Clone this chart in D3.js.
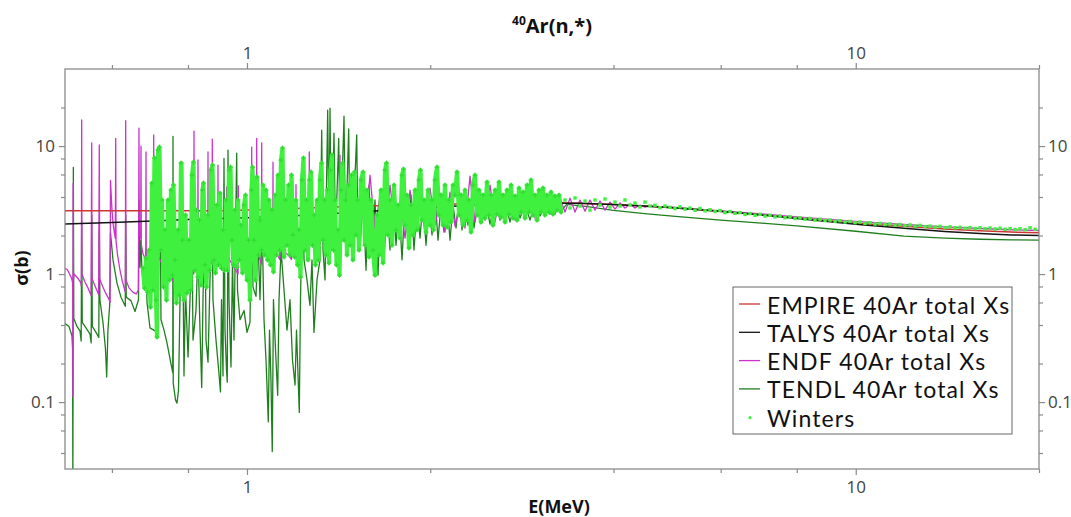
<!DOCTYPE html>
<html>
<head>
<meta charset="utf-8">
<script src="https://cdn.jsdelivr.net/npm/d3@7"></script>
<style>
  html, body { margin: 0; padding: 0; background: #fff; }
  svg { display: block; font-family: "Open Sans", "DejaVu Sans", sans-serif; }
</style>
</head>
<body>
<svg id="chart" width="1071" height="517"></svg>
<script>
// ---- axis ticks ----
const xTickLabels = [1, 10];
const xMinorTicks = [0.6, 0.8, 2, 4, 6, 8, 20];
const yTickLabels = [0.1, 1, 10];
const yMinorTicks = [0.04, 0.06, 0.08, 0.2, 0.4, 0.6, 0.8, 2, 4, 6, 8, 20];

// ---- series: [energy (MeV), total cross section (b)] ----
const empire = [[0.5,3.12],[0.7,3.12],[0.9,3.13],[1.0,3.16],[1.2,3.25],[1.5,3.38],[2.0,3.5],[2.5,3.57],
  [3.0,3.6],[3.5,3.58],[4.0,3.5],[4.5,3.4],[5.0,3.3],[6.0,3.08],[7.0,2.9],[8.0,2.74],[10,2.5],[12,2.36],
  [14,2.25],[16,2.18],[18,2.13],[20,2.1]];

const talys = [[0.5,2.46],[0.6,2.53],[0.7,2.6],[0.8,2.67],[0.9,2.72],[1.0,2.76],[1.25,2.88],[1.6,3.1],
  [2.0,3.32],[2.5,3.5],[3.0,3.58],[3.5,3.57],[4.0,3.5],[4.5,3.4],[5,3.3],[6,3.1],[7,2.9],[8,2.72],
  [10,2.45],[12,2.28],[14,2.15],[16,2.07],[18,2.02],[20,2.0]];

const endf = [
  [0.5024,1.11],[0.507,1.08],[0.511,1.0],[0.515,0.93],[0.5172,0.85],[0.5176,0.11],[0.5181,5.1],[0.5187,0.9],
  [0.5198,1.0],[0.523,0.97],[0.528,0.92],[0.533,0.86],[0.5345,0.80],[0.5351,16.0],[0.5358,1.0],[0.541,0.88],
  [0.548,0.78],[0.5545,0.68],[0.5558,10.6],[0.5566,0.92],[0.562,0.82],[0.5705,0.69],[0.5720,10.2],[0.5729,0.92],
  [0.578,0.82],[0.585,0.72],[0.593,0.64],[0.5958,0.60],[0.5967,5.4],[0.5980,4.4],[0.600,3.2],[0.6025,2.5],
  [0.6055,2.1],[0.6078,1.9],[0.6086,11.5],[0.6094,1.8],[0.613,1.4],[0.618,1.1],[0.624,0.88],[0.6312,0.72],
  [0.6320,15.8],[0.6328,0.90],[0.640,0.78],[0.650,0.72],[0.658,0.70],[0.6630,0.75],[0.6638,2.2],[0.6646,13.8],
  [0.6654,2.3],[0.6672,2.0],[0.6690,1.9],[0.6697,10.0],[0.6705,1.7],[0.6745,1.45],[0.6790,1.35],[0.6818,1.3],
  [0.6825,9.0],[0.6833,1.4],[0.690,1.15],[0.697,1.05],[0.7020,1.0],[0.7027,12.2],[0.7035,1.2],
  [0.712,1.45],[0.722,1.25],[0.735,1.1],[0.748,0.95],[0.760,0.85],[0.772,1.0],[0.7834,1.3],[0.7841,7.5],
  [0.7848,1.6],[0.795,1.4],[0.806,1.2],[0.8176,1.0],[0.8184,13.1],[0.8192,1.5],[0.8250,1.35],[0.8300,1.2],
  [0.8308,7.8],[0.8316,1.4],[0.842,1.2],[0.855,1.0],[0.8621,0.95],[0.8629,9.0],[0.8637,1.5],[0.870,1.3],
  [0.8762,1.2],[0.8770,11.3],[0.8778,1.6],[0.886,1.35],[0.8953,1.2],[0.8961,7.1],[0.8969,1.5],[0.905,1.3],
  [0.915,1.15],[0.9253,1.05],[0.9261,4.8],[0.9269,1.4],[0.940,1.25],[0.955,1.1],[0.9669,1.0],[0.9677,4.9],
  [0.9685,1.4],[0.985,1.25],[1.000,1.1],[1.0170,1.0],[1.0180,9.8],[1.0190,1.5],[1.028,1.3],[1.0364,1.15],
  [1.0374,11.5],[1.0384,1.6],[1.048,1.35],[1.0562,1.2],[1.0572,10.6],[1.0582,1.6],[1.075,1.4],[1.090,1.25],
  [1.1024,1.15],[1.1034,7.5],[1.1044,1.6],[1.118,1.45],[1.1320,1.3],[1.1330,5.9],[1.1340,1.7],[1.150,1.5],
  [1.170,1.4],[1.1833,1.3],[1.1843,5.7],[1.1853,1.7],[1.1950,1.5],[1.2027,1.4],[1.2037,5.0],[1.2047,1.8],
  [1.220,1.6],[1.2349,1.5],[1.2360,8.0],[1.2371,1.9],[1.250,1.7],[1.2646,1.6],[1.2658,9.0],[1.2670,2.0],
  [1.290,1.8],[1.3169,1.7],[1.3181,4.9],[1.3193,2.1],[1.345,1.9],[1.380,1.8],[1.4205,1.75],[1.4217,8.5],
  [1.4229,2.2],[1.450,2.0],[1.490,1.9],[1.5144,2.0],
  [1.5334,4.53],[1.5627,2.02],[1.5925,5.93],[1.6229,2.21],[1.6539,4.14],[1.6855,1.84],[1.7177,4.96],[1.7505,2.29],
  [1.7839,3.79],[1.8180,1.91],[1.8527,4.53],[1.8881,2.21],[1.9241,4.14],[1.9608,2.09],[1.9983,4.70],[2.0364,2.41],
  [2.0753,3.79],[2.1149,2.13],[2.1553,4.37],[2.1965,2.37],[2.2384,3.46],[2.2812,2.29],[2.3247,5.83],[2.3691,2.55],
  [2.4144,4.53],[2.4604,2.64],[2.5074,4.96],[2.5553,2.55],[2.6041,4.37],[2.6538,2.74],[2.7045,4.70],[2.7561,2.64],
  [2.8087,4.14],[2.8624,2.84],[2.9170,4.37],[2.9727,2.74],[3.0295,3.92],[3.0873,2.94],[3.1463,4.14],[3.2063,2.94],
  [3.2675,3.92],[3.3299,3.05],[3.3935,3.92],[3.4583,3.05],[3.5243,3.79],[3.5916,3.10],[3.6602,3.79],[3.7301,3.16],
  [3.8013,3.72],[3.8739,3.16],[3.9478,3.65],[4.0232,3.22],[4.1000,3.59],[4.1783,3.28],[4.2581,3.52],[4.3394,3.28],
  [4.4223,3.46],[4.5067,3.34],[4.5927,3.40],
  [4.8,3.37],[5.0,3.33],[6,3.12],[7,2.95],[8,2.80],[10,2.58],[12,2.44],[14,2.34],[16,2.27],[18,2.22],[20,2.19]];

const tendl = [
  [0.5024,0.41],[0.510,0.39],[0.5158,0.33],[0.5170,0.26],[0.5176,0.02],[0.5185,6.8],[0.5194,0.45],[0.5257,0.39],
  [0.5317,0.36],[0.5341,0.30],[0.5351,2.6],[0.5363,0.42],[0.5439,0.38],[0.5522,0.34],[0.5547,0.29],[0.5558,2.9],
  [0.5571,0.39],[0.5649,0.35],[0.5709,0.32],[0.5720,2.2],[0.5733,0.63],[0.5800,0.42],[0.5855,0.26],[0.5882,0.157],
  [0.5911,0.37],[0.5949,0.57],[0.5967,2.1],[0.6024,1.29],[0.6116,0.85],[0.6209,0.66],[0.6311,0.56],[0.6320,2.9],
  [0.6333,0.66],[0.6448,0.62],[0.6547,0.51],[0.6634,0.63],[0.6646,3.8],[0.6672,1.13],[0.6697,1.84],[0.6722,1.04],
  [0.6799,0.75],[0.6825,1.54],[0.6851,0.60],[0.6929,0.38],[0.7061,0.36],[0.7142,0.35],[0.7196,8.0],[0.7223,0.44],
  [0.7306,0.365],[0.7389,0.29],[0.7500,0.2],[0.7552,0.17],[0.7559,11.9],[0.7566,0.14],[0.7631,0.104],[0.7674,0.098],
  [0.7718,0.124],[0.7763,0.63],[0.7793,1.84],[0.7852,0.98],[0.7880,0.16],[0.7925,0.75],[0.8002,0.225],[0.8060,0.63],
  [0.8121,2.2],[0.8153,0.305],[0.8246,0.52],[0.8308,1.54],[0.8372,0.365],[0.8426,0.13],[0.8467,0.63],[0.8531,3.16],
  [0.8564,0.305],[0.8629,0.205],[0.8694,0.90],[0.8760,3.8],[0.8793,0.63],[0.8894,0.305],[0.8978,0.185],[0.9046,0.12],
  [0.9081,0.63],[0.9133,0.16],[0.9167,8.0],[0.9202,0.365],[0.9254,0.178],[0.9282,0.143],[0.9307,9.3],[0.9342,0.63],
  [0.9413,0.188],[0.9467,1.29],[0.9520,0.305],[0.9618,8.8],[0.9647,0.75],[0.9739,0.44],[0.9888,0.52],[1.000,0.35],
  [1.0114,0.42],[1.0175,3.8],[1.0230,0.79],[1.0347,0.67],[1.0426,1.84],[1.0505,0.63],[1.0585,2.64],[1.0665,0.44],
  [1.0746,0.213],[1.0840,0.07],[1.0889,0.365],[1.0949,0.149],[1.1003,0.041],[1.1053,0.63],[1.1139,0.255],[1.1232,0.113],
  [1.1288,0.63],[1.1374,1.54],[1.1503,0.75],[1.1634,0.365],[1.1766,0.63],[1.1878,0.213],[1.1992,0.136],[1.2060,0.365],
  [1.2188,0.083],[1.2243,0.63],[1.2360,8.2],[1.2407,1.29],[1.2548,0.90],[1.2690,0.57],[1.2787,1.29],[1.2884,0.35],
  [1.3032,0.90],[1.3181,1.29],[1.3266,13.3],[1.3332,1.54],[1.3433,0.90],[1.3570,19.1],[1.3637,1.84],[1.3689,19.8],
  [1.3767,1.54],[1.3898,12.6],[1.3977,1.84],[1.4147,11.5],[1.4217,1.54],[1.4434,17.1],[1.4516,1.84],[1.4692,13.6],
  [1.4763,1.68],[1.4934,2.41],[1.5144,12.2],[1.5218,1.68],
  [1.5334,1.54],[1.5509,4.14],[1.5686,1.07],[1.5865,4.96],[1.6046,1.41],[1.6229,3.79],[1.6414,0.98],[1.6602,4.53],
  [1.6791,1.29],[1.6983,3.46],[1.7177,1.54],[1.7373,4.14],[1.7571,1.68],[1.7772,3.46],[1.7974,1.29],[1.8180,3.79],
  [1.8387,1.84],[1.8597,4.14],[1.8809,1.54],[1.9024,3.46],[1.9241,1.91],[1.9461,3.79],[1.9682,1.68],[1.9907,3.46],
  [2.0135,2.02],[2.0364,4.14],[2.0596,1.84],[2.0832,3.46],[2.1069,2.13],[2.1310,3.79],[2.1553,1.84],[2.1799,3.46],
  [2.2048,2.29],[2.2300,3.93],[2.2554,2.21],[2.2812,3.46],[2.3072,2.41],[2.3335,3.79],[2.3601,2.29],[2.3871,3.65],
  [2.4144,2.55],[2.4604,3.93],[2.5074,2.46],[2.5553,3.79],[2.6041,2.64],[2.6538,3.65],[2.7045,2.55],[2.7561,3.79],
  [2.8087,2.74],[2.8624,3.52],[2.9170,2.64],[2.9727,3.59],[3.0295,2.84],[3.0873,3.46],[3.1463,2.94],[3.2063,3.40],
  [3.2675,3.05],
  [3.35,3.5],[3.6,3.38],[4.0,3.15],[4.5,2.97],[5,2.84],[6,2.64],[7,2.5],[8,2.38],[10,2.16],[12,1.98],[14,1.91],
  [16,1.87],[18,1.85],[20,1.84]];

const winters = [
  [0.6748,1.11],[0.6786,0.777],[0.6825,1.33],[0.6864,0.723],[0.6903,1.54],[0.6942,0.552],[0.6981,5.14],[0.7008,0.75],
  [0.7048,8.06],[0.7088,0.626],[0.7115,0.322],[0.7142,9.31],[0.7182,9.82],[0.7223,1.54],[0.7251,3.79],[0.7292,0.792],
  [0.7333,2.21],[0.7375,0.626],[0.7417,3.79],[0.7459,0.898],[0.7502,4.53],[0.7544,0.98],[0.7573,4.96],[0.7616,1.29],
  [0.7659,0.594],[0.7703,2.21],[0.7747,0.686],[0.7791,7.37],[0.7835,1.84],[0.7880,0.626],[0.7925,2.89],[0.7970,0.711],
  [0.8030,1.84],[0.8076,0.75],[0.8122,5.93],[0.8168,7.5],[0.8215,1.07],[0.8261,3.16],[0.8308,0.947],[0.8356,2.64],
  [0.8403,0.82],[0.8451,4.53],[0.8483,5.14],[0.8531,1.18],[0.8580,0.792],[0.8629,2.89],[0.8678,1.07],[0.8727,6.49],
  [0.8777,7.11],[0.8827,1.29],[0.8877,1.02],[0.8927,3.46],[0.8978,1.18],[0.9029,4.29],[0.9081,1.11],[0.9132,2.21],
  [0.9184,1.07],[0.9237,3.79],[0.9289,1.07],[0.9342,6.49],[0.9395,6.85],[0.9449,1.84],[0.9502,1.18],[0.9557,3.16],
  [0.9611,1.13],[0.9666,3.79],[0.9721,1.29],[0.9776,2.41],[0.9832,1.02],[0.9888,3.46],[0.9944,4.14],[1.0000,0.898],
  [1.0057,1.84],[1.0115,0.626],[1.0172,4.53],[1.0211,6.85],[1.0269,1.84],[1.0327,0.898],[1.0386,5.73],[1.0445,1.41],
  [1.0505,2.64],
  [1.0564,1.54],[1.0624,4.96],[1.0685,1.41],[1.0746,4.53],[1.0807,1.29],[1.0868,3.79],[1.0930,1.18],[1.0992,3.16],
  [1.1055,1.04],[1.1118,4.14],[1.1181,1.41],[1.1245,5.93],[1.1309,1.54],[1.1373,7.78],[1.1438,9.65],[1.1503,1.36],
  [1.1568,3.79],[1.1634,1.68],[1.1700,4.96],[1.1767,1.41],[1.1834,5.93],[1.1901,2.02],[1.1969,1.36],[1.2037,3.79],
  [1.2105,1.18],[1.2174,2.21],[1.2244,0.947],[1.2313,5.43],[1.2383,8.06],[1.2454,1.54],[1.2525,3.79],[1.2596,1.29],
  [1.2668,5.43],[1.2740,6.27],[1.2812,1.68],[1.2885,2.89],[1.2958,1.18],[1.3032,3.79],[1.3106,1.29],[1.3181,5.43],
  [1.3256,7.37],[1.3331,1.84],[1.3407,3.79],[1.3484,1.41],[1.3560,4.53],[1.3637,1.22],[1.3715,6.49],[1.3793,8.51],
  [1.3872,1.54],[1.3950,3.79],[1.4030,1.18],[1.4110,2.21],[1.4190,0.98],[1.4271,4.53],[1.4352,7.37],[1.4434,1.84],
  [1.4516,3.79],[1.4598,1.41],[1.4681,4.96],[1.4765,1.68],[1.4849,5.93],[1.4933,1.29],[1.5018,6.27],[1.5104,2.02],
  [1.5190,3.79],[1.5276,1.54],
  [1.5392,5.43],[1.5509,6.27],[1.5627,1.68],[1.5746,4.53],[1.5865,1.36],[1.5986,3.79],[1.6107,1.54],[1.6229,0.98],
  [1.6353,2.89],[1.6477,1.41],[1.6602,4.53],[1.6728,1.22],[1.6855,6.49],[1.6951,7.37],[1.7047,2.02],[1.7177,3.79],
  [1.7307,1.68],[1.7439,4.96],[1.7571,2.21],[1.7705,3.46],[1.7839,1.91],[1.7975,5.93],[1.8077,6.61],[1.8180,2.41],
  [1.8318,4.14],[1.8457,1.60],[1.8597,3.46],[1.8738,2.02],[1.8881,4.53],[1.9024,2.21],[1.9168,5.43],[1.9277,6.49],
  [1.9387,2.64],[1.9534,3.79],[1.9683,2.13],[1.9832,4.53],[1.9983,2.41],[2.0135,3.79],[2.0249,2.21],[2.0364,5.43],
  [2.0519,6.85],[2.0675,2.89],[2.0832,4.14],[2.0990,2.41],[2.1149,4.96],[2.1310,2.33],[2.1472,3.79],[2.1635,2.55],
  [2.1799,4.96],[2.1965,4.14],[2.2132,6.27],[2.2300,2.89],[2.2469,4.14],[2.2640,2.41],[2.2812,4.53],[2.2985,2.64],
  [2.3159,3.79],[2.3335,2.13],
  [2.3513,4.96],[2.3691,5.93],[2.3871,2.89],[2.4052,4.53],[2.4235,2.55],[2.4419,4.14],[2.4604,2.74],[2.4791,5.23],
  [2.4979,2.89],[2.5169,4.14],[2.5360,2.41],[2.5553,4.53],[2.5747,2.94],[2.5942,5.23],[2.6139,2.79],[2.6338,4.14],
  [2.6538,2.55],[2.6739,4.53],[2.6943,2.94],[2.7147,4.96],[2.7353,2.74],[2.7561,4.07],[2.7770,2.64],[2.7981,4.70],
  [2.8194,3.05],[2.8408,4.37],[2.8624,2.74],[2.8841,4.96],[2.9060,3.05],[2.9281,5.43],[2.9503,2.89],[2.9727,4.14],
  [2.9953,2.64],[3.0180,4.53],[3.0409,3.05],[3.0640,4.70],[3.0873,2.89],[3.1107,4.14],[3.1344,3.05],[3.1582,4.37],
  [3.1822,2.94],[3.2063,4.07],[3.2307,3.16],[3.2552,4.14],[3.2799,3.05],
  [3.330,3.79],[3.3935,3.28],[3.4583,3.93],[3.5243,3.40],[3.5916,3.72],[3.6602,3.16],[3.7301,3.79],[3.8013,3.46],
  [3.8739,3.86],[3.9478,3.34],[4.0232,3.65],[4.1000,3.40],[4.1783,3.79],[4.2581,3.46],[4.3394,3.59],[4.4223,3.34],
  [4.5067,3.65],[4.5927,3.40],[4.6804,3.45],[4.7698,3.30],[4.8609,3.40],[4.9537,3.32],[5.0483,3.25],[5.1447,3.35],
  [5.2430,3.22],[5.3430,3.28],[5.4450,3.15],[5.5490,3.25],[5.6550,3.12],[5.7629,3.18],[5.8730,3.08],[5.9851,3.14],
  [6.0994,3.02],[6.2158,3.08],[6.3345,2.98],[6.4555,3.02],[6.5788,2.92],[6.7044,2.97],[6.8324,2.88],[6.9628,2.93],
  [7.0958,2.84],[7.2312,2.88],[7.3693,2.80],[7.5100,2.84],[7.6534,2.76],[7.7996,2.80],[7.9485,2.72],[8.1003,2.75],
  [8.2550,2.68],[8.4126,2.72],[8.5732,2.64],[8.7369,2.68],[8.9037,2.62],[9.0737,2.64],[9.2470,2.58],[9.4235,2.61],
  [9.6034,2.55],[9.7868,2.58],[9.9737,2.52],[10.164,2.55],[10.358,2.49],[10.556,2.52],[10.758,2.46],[10.963,2.49],
  [11.172,2.44],[11.386,2.46],[11.603,2.41],[11.825,2.44],[12.050,2.39],[12.281,2.42],[12.515,2.37],[12.754,2.40],
  [12.998,2.35],[13.246,2.37],[13.499,2.33],[13.757,2.36],[14.019,2.31],[14.287,2.34],[14.560,2.30],[14.838,2.32],
  [15.121,2.28],[15.410,2.31],[15.704,2.27],[16.004,2.30],[16.310,2.26],[16.621,2.29],[16.938,2.25],[17.262,2.28],
  [17.591,2.24],[17.927,2.27],[18.270,2.23],[18.619,2.26],[18.974,2.22],[19.336,2.30],[19.706,2.24]];

// ---- layout ----
const svg = d3.select("#chart");
const plot = { left: 65, right: 1039, top: 69, bottom: 469 };
const x = d3.scaleLog().domain([0.5024, 20]).range([plot.left, plot.right]);
const y = d3.scaleLog().domain([0.03, 40]).range([plot.bottom, plot.top]);

const colors = {
  empire: "#d03434",
  talys: "#141414",
  endf: "#cc33cc",
  tendl: "#1f7f1f",
  winters: "#3ff03f"
};

svg.append("defs").append("clipPath").attr("id", "plot-clip")
  .append("rect")
  .attr("x", plot.left).attr("y", plot.top)
  .attr("width", plot.right - plot.left).attr("height", plot.bottom - plot.top);

const layer = svg.append("g").attr("clip-path", "url(#plot-clip)");
const line = d3.line().x(d => x(d[0])).y(d => y(d[1]));

function drawSeries(data, color, width) {
  layer.append("path")
    .datum(data)
    .attr("d", line)
    .attr("fill", "none")
    .attr("stroke", color)
    .attr("stroke-width", width)
    .attr("stroke-linejoin", "round");
}

drawSeries(tendl, colors.tendl, 1.3);
drawSeries(endf, colors.endf, 1.3);
drawSeries(empire, colors.empire, 1.5);
drawSeries(talys, colors.talys, 1.5);

// Winters measurement: dense resonance region rendered as a thick trace of markers,
// sparse high-energy points as individual markers
const denseLimit = 3.3;
const dense = winters.filter(d => d[0] < denseLimit);
const sparse = winters.filter(d => d[0] >= denseLimit);

layer.append("path")
  .datum(dense)
  .attr("d", line)
  .attr("fill", "none")
  .attr("stroke", colors.winters)
  .attr("stroke-width", 4.2)
  .attr("stroke-linejoin", "round")
  .attr("stroke-linecap", "round");

layer.append("g").selectAll("path")
  .data(dense)
  .join("path")
  .attr("d", d => {
    const cx = x(d[0]), cy = y(d[1]);
    return `M${cx - 2.5},${cy}H${cx + 2.5}M${cx},${cy - 2.5}V${cy + 2.5}`;
  })
  .attr("stroke", "#30d830")
  .attr("stroke-width", 1);

layer.append("g").selectAll("rect")
  .data(sparse)
  .join("rect")
  .attr("x", d => x(d[0]) - 1.7)
  .attr("y", d => y(d[1]) - 1.7)
  .attr("width", 3.4)
  .attr("height", 3.4)
  .attr("fill", colors.winters);

// ---- axes ----
const axisColor = "#8a8a8a";
const labelColor = "#444";
const fmt = d => String(d);

function styleAxis(g) {
  g.select(".domain").remove();
  g.selectAll(".tick line").attr("stroke", axisColor).attr("stroke-width", 1.2);
  g.selectAll(".tick text").attr("fill", labelColor).attr("font-size", 17)
    .attr("font-family", '"Open Sans", "DejaVu Sans", sans-serif');
}

svg.append("g").attr("transform", `translate(0,${plot.bottom})`)
  .call(d3.axisBottom(x).tickValues(xTickLabels).tickFormat(fmt).tickSize(6).tickPadding(6))
  .call(styleAxis);
svg.append("g").attr("transform", `translate(0,${plot.bottom})`)
  .call(d3.axisBottom(x).tickValues(xMinorTicks).tickFormat("").tickSize(4))
  .call(styleAxis);
svg.append("g").attr("transform", `translate(0,${plot.top})`)
  .call(d3.axisTop(x).tickValues(xTickLabels).tickFormat(fmt).tickSize(6).tickPadding(4))
  .call(styleAxis);
svg.append("g").attr("transform", `translate(0,${plot.top})`)
  .call(d3.axisTop(x).tickValues(xMinorTicks).tickFormat("").tickSize(4))
  .call(styleAxis);
svg.append("g").attr("transform", `translate(${plot.left},0)`)
  .call(d3.axisLeft(y).tickValues(yTickLabels).tickFormat(fmt).tickSize(6).tickPadding(4))
  .call(styleAxis);
svg.append("g").attr("transform", `translate(${plot.left},0)`)
  .call(d3.axisLeft(y).tickValues(yMinorTicks).tickFormat("").tickSize(4))
  .call(styleAxis);
svg.append("g").attr("transform", `translate(${plot.right},0)`)
  .call(d3.axisRight(y).tickValues(yTickLabels).tickFormat(fmt).tickSize(6).tickPadding(3))
  .call(styleAxis);
svg.append("g").attr("transform", `translate(${plot.right},0)`)
  .call(d3.axisRight(y).tickValues(yMinorTicks).tickFormat("").tickSize(4))
  .call(styleAxis);

svg.append("rect")
  .attr("x", plot.left).attr("y", plot.top)
  .attr("width", plot.right - plot.left).attr("height", plot.bottom - plot.top)
  .attr("fill", "none").attr("stroke", axisColor).attr("stroke-width", 1.3);

// ---- titles ----
const title = svg.append("text")
  .attr("x", (plot.left + plot.right) / 2).attr("y", 33)
  .attr("text-anchor", "middle").attr("font-weight", "bold").attr("font-size", 20).attr("fill", "#111");
title.append("tspan").attr("font-size", 12).attr("dy", -8).text("40");
title.append("tspan").attr("dy", 8).text("Ar(n,*)");

svg.append("text")
  .attr("x", 559).attr("y", 513)
  .attr("text-anchor", "middle").attr("font-weight", "bold").attr("font-size", 18).attr("fill", "#111")
  .text("E(MeV)");

svg.append("text")
  .attr("transform", "translate(28,268) rotate(-90)")
  .attr("text-anchor", "middle").attr("font-weight", "bold").attr("font-size", 18).attr("fill", "#111")
  .text("σ(b)");

// ---- legend ----
const legendItems = [
  { label: "EMPIRE 40Ar total Xs", color: colors.empire, kind: "line" },
  { label: "TALYS 40Ar total Xs", color: colors.talys, kind: "line" },
  { label: "ENDF 40Ar total Xs", color: colors.endf, kind: "line" },
  { label: "TENDL 40Ar total Xs", color: colors.tendl, kind: "line" },
  { label: "Winters", color: colors.winters, kind: "dot" }
];

const legend = svg.append("g").attr("transform", "translate(733,287)");
legend.append("rect")
  .attr("width", 279).attr("height", 147)
  .attr("fill", "#fff").attr("stroke", "#666").attr("stroke-width", 1);

const rows = legend.selectAll("g.row").data(legendItems).join("g")
  .attr("class", "row")
  .attr("transform", (d, i) => `translate(0,${26.5 + i * 28.3})`);

rows.filter(d => d.kind === "line").append("line")
  .attr("x1", 6).attr("x2", 27).attr("y1", -9.5).attr("y2", -9.5)
  .attr("stroke", d => d.color).attr("stroke-width", 1.3);
rows.filter(d => d.kind === "dot").append("circle")
  .attr("cx", 17).attr("cy", -9).attr("r", 1.6).attr("fill", d => d.color);
rows.append("text")
  .attr("x", 34).attr("y", 0)
  .attr("font-family", "Lato, 'Open Sans', sans-serif")
  .attr("font-size", 23).attr("letter-spacing", 1.1).attr("fill", "#111")
  .text(d => d.label);
</script>
</body>
</html>
